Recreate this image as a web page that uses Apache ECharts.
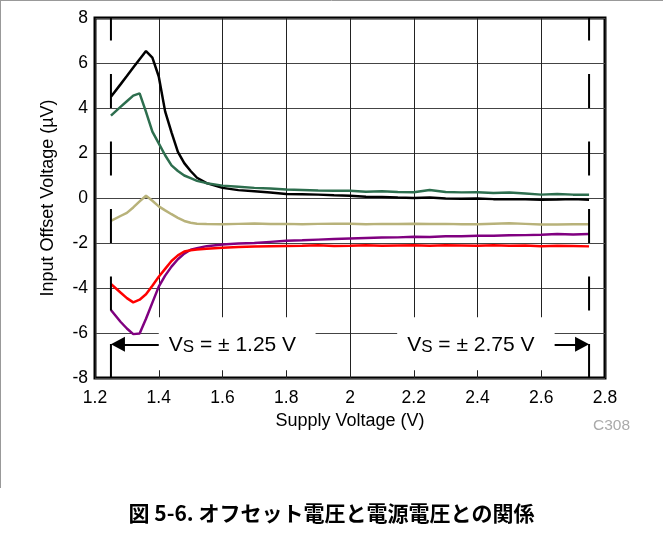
<!DOCTYPE html>
<html>
<head>
<meta charset="utf-8">
<script src="https://cdn.jsdelivr.net/npm/echarts@6/dist/echarts.min.js"></script>
<style>
  html, body { margin: 0; padding: 0; background: #fff; }
  #chart { width: 663px; height: 536px; }
</style>
</head>
<body>
<div id="chart"></div>
<script>
// 電源電圧 (V)
var supplyV = [1.25, 1.28, 1.30, 1.32, 1.34, 1.36, 1.38, 1.40, 1.42, 1.44, 1.46, 1.48, 1.50, 1.52, 1.55,
  1.6, 1.65, 1.7, 1.75, 1.8, 1.85, 1.9, 1.95, 2.0, 2.05, 2.1, 2.15, 2.2, 2.25, 2.3, 2.35, 2.4, 2.45,
  2.5, 2.55, 2.6, 2.65, 2.7, 2.75];

// オフセット電圧 (uV)
var blackV = [4.5, 5.05, 5.42, 5.8, 6.17, 6.53, 6.24, 5.4, 3.85, 2.92, 2.05, 1.55, 1.2, 0.9, 0.66,
  0.45, 0.35, 0.3, 0.24, 0.18, 0.17, 0.15, 0.12, 0.1, 0.06, 0.05, 0.02, 0.0, 0.02, -0.02, -0.03, -0.02, -0.05,
  -0.05, -0.06, -0.08, -0.07, -0.05, -0.08];
var greenV = [3.66, 4.05, 4.3, 4.55, 4.65, 3.83, 2.95, 2.43, 1.9, 1.45, 1.2, 1.0, 0.88, 0.76, 0.66,
  0.55, 0.5, 0.45, 0.42, 0.38, 0.36, 0.33, 0.32, 0.32, 0.28, 0.3, 0.27, 0.26, 0.36, 0.27, 0.25, 0.26, 0.22,
  0.24, 0.2, 0.15, 0.18, 0.15, 0.15];
var khakiV = [-1.02, -0.8, -0.66, -0.42, -0.15, 0.1, -0.12, -0.37, -0.55, -0.72, -0.88, -1.02, -1.1, -1.14, -1.16,
  -1.17, -1.15, -1.13, -1.16, -1.15, -1.17, -1.15, -1.14, -1.14, -1.17, -1.15, -1.16, -1.14, -1.16, -1.15, -1.17, -1.17, -1.14,
  -1.12, -1.15, -1.18, -1.18, -1.17, -1.17];
var purpleV = [-4.98, -5.5, -5.8, -6.05, -6.02, -5.37, -4.65, -3.94, -3.45, -3.05, -2.72, -2.47, -2.3, -2.23, -2.14,
  -2.07, -2.02, -2.0, -1.95, -1.9, -1.88, -1.85, -1.82, -1.8, -1.78, -1.76, -1.75, -1.72, -1.73, -1.7, -1.7, -1.68, -1.68,
  -1.66, -1.65, -1.63, -1.6, -1.62, -1.6];
var redV = [-3.82, -4.2, -4.45, -4.64, -4.52, -4.28, -3.9, -3.5, -3.15, -2.8, -2.55, -2.38, -2.32, -2.29, -2.26,
  -2.21, -2.18, -2.16, -2.14, -2.13, -2.12, -2.1, -2.13, -2.12, -2.1, -2.12, -2.11, -2.1, -2.12, -2.1, -2.11, -2.12, -2.1,
  -2.12, -2.11, -2.14, -2.12, -2.13, -2.15];

// 注記 (VS = ±1.25 V / ±2.75 V)
var vsLow = 1.25, vsHigh = 2.75;
var vsLabels = ['1.25', '2.75'];

var fontLatin = 'Liberation Sans, Arial, sans-serif';

function pairs(ys) {
  return supplyV.map(function (v, i) { return [v, ys[i]]; });
}

function curve(name, ys, color) {
  return {
    name: name,
    type: 'line',
    data: pairs(ys),
    symbol: 'none',
    silent: true,
    lineStyle: { color: color, width: 2.5 },
    z: 3
  };
}

// 添字 S を下げる
var vsRich = {
  v: { fontSize: 21, lineHeight: 24, verticalAlign: 'bottom', color: '#000', fontFamily: fontLatin },
  s: { fontSize: 17, lineHeight: 16, verticalAlign: 'bottom', color: '#000', fontFamily: fontLatin }
};

// 電源電圧範囲の縦破線 + 矢印 + ラベル
function vsMarker(x, arrowFrom, arrowTo, box, label) {
  return {
    type: 'line',
    data: [[x, -8], [x, 8]],
    symbol: 'none',
    silent: true,
    lineStyle: { color: '#000', width: 2, type: [34, 33.5] },
    z: 4,
    markLine: {
      silent: true,
      symbol: ['none', 'triangle'],
      symbolSize: [15, 14],
      label: { show: false },
      lineStyle: { color: '#000', width: 2, type: 'solid' },
      data: [[{ coord: [arrowFrom, -6.5] }, { coord: [arrowTo, -6.5] }]]
    },
    markArea: {
      silent: true,
      itemStyle: { color: '#fff' },
      label: {
        show: true,
        position: 'insideLeft',
        distance: 10,
        offset: [0, 0],
        formatter: '{v|V}{s|S}{v| = ± ' + label + ' V}',
        rich: vsRich
      },
      data: [[{ coord: [box[0], -5.3] }, { coord: [box[1], -7.65] }]]
    }
  };
}

var chart = echarts.init(document.getElementById('chart'));

var option = {
  animation: false,
  backgroundColor: '#fff',
  grid: {
    left: 95, right: 58, top: 18, bottom: 158,
    show: true, borderColor: '#000', borderWidth: 3, backgroundColor: 'transparent'
  },
  xAxis: {
    type: 'value',
    min: 1.2, max: 2.8, interval: 0.2,
    name: 'Supply Voltage (V)',
    nameLocation: 'middle',
    nameGap: 32,
    nameTextStyle: { fontSize: 18, color: '#000', fontFamily: fontLatin },
    axisLine: { show: false },
    axisTick: { show: false },
    axisLabel: { fontSize: 17.5, color: '#000', margin: 11, fontFamily: fontLatin },
    splitLine: { show: true, lineStyle: { color: '#222', width: 1 } }
  },
  yAxis: {
    type: 'value',
    min: -8, max: 8, interval: 2,
    name: 'Input Offset Voltage (µV)',
    nameLocation: 'middle',
    nameGap: 38,
    nameTextStyle: { fontSize: 18, color: '#000', fontFamily: fontLatin },
    axisLine: { show: false },
    axisTick: { show: false },
    axisLabel: { fontSize: 17.5, color: '#000', margin: 7, fontFamily: fontLatin },
    splitLine: { show: true, lineStyle: { color: '#444', width: 1 } }
  },
  series: [
    curve('black', blackV, '#000000'),
    curve('green', greenV, '#2d6e4e'),
    curve('khaki', khakiV, '#b8b27a'),
    curve('purple', purpleV, '#800080'),
    curve('red', redV, '#ff0000'),
    vsMarker(vsLow, 1.4, vsLow + 7 / 318.75, [1.4, 1.892], vsLabels[0]),
    vsMarker(vsHigh, 2.642, vsHigh - 7 / 318.75, [2.148, 2.642], vsLabels[1])
  ],
  graphic: [
    { type: 'line', shape: { x1: 0, y1: 0.5, x2: 663, y2: 0.5 }, style: { stroke: '#999', lineWidth: 1 }, silent: true },
    { type: 'line', shape: { x1: 0.5, y1: 0, x2: 0.5, y2: 488 }, style: { stroke: '#999', lineWidth: 1 }, silent: true },
    {
      type: 'text', right: 33, top: 418, silent: true,
      style: { text: 'C308', fill: '#aaa', font: '15.5px ' + fontLatin }
    },
    {
      type: 'text', left: 'center', top: 503, silent: true,
      style: { text: '図 5-6. オフセット電圧と電源電圧との関係', fill: '#000', font: 'bold 21px "Noto Sans CJK JP", sans-serif' }
    }
  ]
};

chart.setOption(option);
</script>
</body>
</html>
